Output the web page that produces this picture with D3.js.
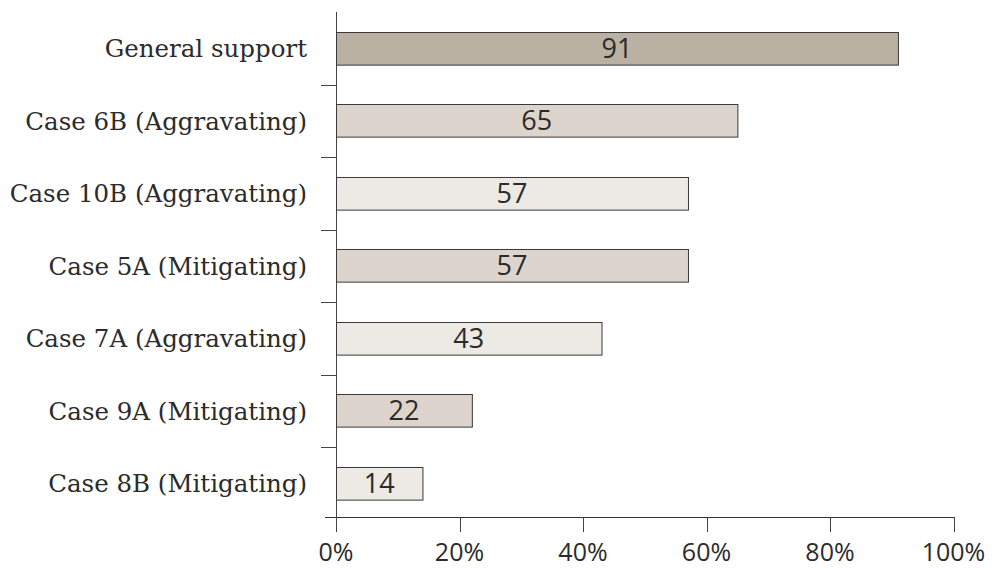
<!DOCTYPE html>
<html>
<head>
<meta charset="utf-8">
<script src="https://cdn.jsdelivr.net/npm/d3@7"></script>
<style>
  body { margin: 0; background: #fff; }
  .lbl { font-family: "DejaVu Serif", serif; fill: #2b2b2b; }
  .val { font-family: "Open Sans", sans-serif; fill: #2b2b2b; }
</style>
</head>
<body>
<div class="chart"></div>
<script>
// values (percent)
const categories = ["General support", "Case 6B (Aggravating)", "Case 10B (Aggravating)",
  "Case 5A (Mitigating)", "Case 7A (Aggravating)", "Case 9A (Mitigating)", "Case 8B (Mitigating)"];
const values = [91, 65, 57, 57, 43, 22, 14];
const shades = ["dark", "mid", "light", "mid", "light", "mid", "light"];
const xTicks = [0, 20, 40, 60, 80, 100];

const colors = { dark: "#bab1a3", mid: "#dcd4cd", light: "#ede9e4" };

let width = 997, height = 568;

let svg = d3.select(".chart").append("svg")
  .attr("width", width)
  .attr("height", height);

let x = d3.scaleLinear().domain([0, 100]).range([336, 953.5]);
let y = d3.scaleBand().domain(categories).range([12, 519.5]).paddingInner(0.55).paddingOuter(0.275);

// y axis line
svg.append("line")
  .attr("x1", 336.5).attr("x2", 336.5)
  .attr("y1", 12).attr("y2", 531)
  .attr("stroke", "#444").attr("stroke-width", 1);

// y ticks between bands
let step = y.step();
svg.selectAll(".ytick")
  .data(categories.slice(1))
  .join("line")
  .attr("x1", 321).attr("x2", 336)
  .attr("y1", d => Math.round(y(d) - y.paddingInner() * step / 2) + 0.5)
  .attr("y2", d => Math.round(y(d) - y.paddingInner() * step / 2) + 0.5)
  .attr("stroke", "#444");

// x axis
svg.append("line")
  .attr("x1", 325).attr("x2", 954)
  .attr("y1", 517.5).attr("y2", 517.5)
  .attr("stroke", "#333");

svg.selectAll(".xtick")
  .data(xTicks)
  .join("line")
  .attr("x1", d => Math.round(x(d)) + 0.5).attr("x2", d => Math.round(x(d)) + 0.5)
  .attr("y1", 517).attr("y2", 532)
  .attr("stroke", "#444");

svg.selectAll(".xlabel")
  .data(xTicks)
  .join("text")
  .attr("class", "val")
  .attr("x", d => x(d))
  .attr("y", 561)
  .attr("text-anchor", "middle")
  .attr("font-size", 25)
  .text(d => d + "%");

// bars
svg.selectAll(".bar")
  .data(values)
  .join("rect")
  .attr("x", x(0) + 0.5)
  .attr("y", (d, i) => Math.round(y(categories[i])) + 0.5)
  .attr("width", d => x(d) - x(0))
  .attr("height", y.bandwidth())
  .attr("fill", (d, i) => colors[shades[i]])
  .attr("stroke", "#3a3a3a")
  .attr("stroke-width", 1);

svg.selectAll(".barval")
  .data(values)
  .join("text")
  .attr("class", "val")
  .attr("x", d => (x(0) + x(d)) / 2)
  .attr("y", (d, i) => y(categories[i]) + y.bandwidth() / 2)
  .attr("dy", "0.36em")
  .attr("text-anchor", "middle")
  .attr("font-size", 27)
  .text(d => d);

// category labels
svg.selectAll(".cat")
  .data(categories)
  .join("text")
  .attr("class", "lbl")
  .attr("x", 307)
  .attr("y", d => y(d) + y.bandwidth() / 2)
  .attr("dy", "0.36em")
  .attr("text-anchor", "end")
  .attr("font-size", 24.5)
  .text(d => d);
</script>
</body>
</html>
